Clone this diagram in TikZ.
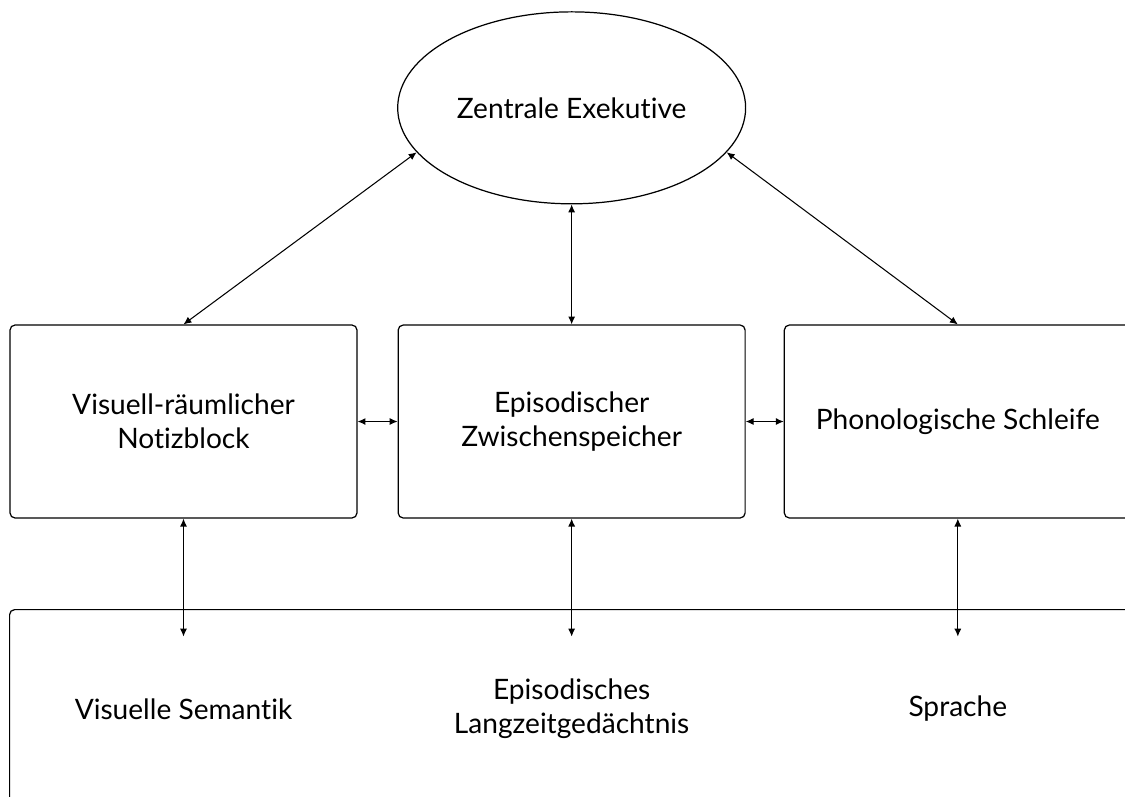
\documentclass[tikz,border=0pt]{standalone}
\usepackage{fontspec}
\setmainfont{Lato}[Ligatures={NoCommon}]
\usetikzlibrary{positioning,shapes.geometric,arrows.meta}

\begin{document}
\begin{tikzpicture}[x=0.02cm,y=-0.02cm,
    font=\fontsize{16}{19.3}\selectfont,
    box/.style={draw,line width=0.7pt,rounded corners=0.1cm,align=center,
      minimum width=6.94cm,minimum height=3.86cm},
    store/.style={align=center,minimum height=2.88cm,inner sep=0pt},
    link/.style={{Latex[length=4.5pt,width=4pt]}-{Latex[length=4.5pt,width=4pt]},line width=0.6pt}]
    \useasboundingbox (0,0) rectangle (1125,796);
    \clip (0,0) rectangle (1125,796);
    \node [draw,line width=0.7pt,rounded corners=0.1cm,anchor=north west,
      minimum width=24cm,minimum height=6cm] (ltm) at (9,609) {};
    \node [box] (vsn) at (183.5,421.5) {Visuell-räumlicher\\Notizblock};
    \node [box,right=0.8cm of vsn] (ep) {Episodischer\\Zwischenspeicher};
    \node [box,right=0.76cm of ep] (ps) {Phonologische Schleife};
    \node [draw,ellipse,line width=0.7pt,inner sep=0pt,minimum width=6.96cm,
      minimum height=3.84cm,above=2.4cm of ep] (ze) {Zentrale Exekutive};
    \node [store,below=2.36cm of vsn] (vs) {Visuelle Semantik};
    \node [store,below=2.36cm of ep] (el) {Episodisches\\Langzeitgedächtnis};
    \node [store,below=2.36cm of ps] (sp) {Sprache};
    \draw [link] (ze.196) -- (vsn.north);
    \draw [link] (ze.south) -- (ep.north);
    \draw [link] (ze.-16) -- (ps.north);
    \draw [link] (vsn.east) -- (ep.west);
    \draw [link] (ep.east) -- (ps.west);
    \draw [link] (vsn.south) -- (vs.north);
    \draw [link] (ep.south) -- (el.north);
    \draw [link] (ps.south) -- (sp.north);
  \end{tikzpicture}
\end{document}
